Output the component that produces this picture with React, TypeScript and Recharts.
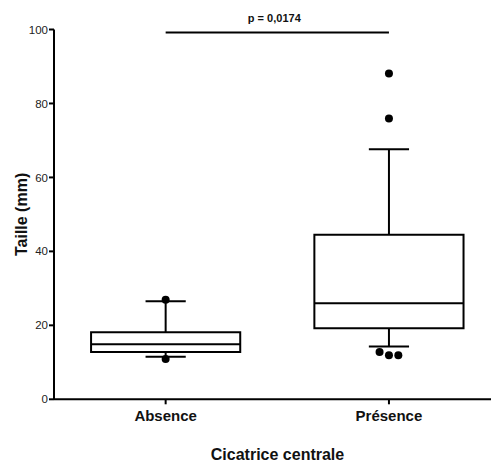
import { ComposedChart, XAxis, YAxis, Scatter, ReferenceArea, ReferenceLine } from 'recharts';

// Box plot: Taille (mm) by Cicatrice centrale
const categories = ['Absence', 'Présence'];
const positions = [0.5, 1.5];
const whiskerLow = [11.5, 14.3];
const quartile1 = [12.8, 19.2];
const medians = [14.9, 26.0];
const quartile3 = [18.1, 44.5];
const whiskerHigh = [26.5, 67.6];

// outliers: group index, value, small side shift so dots don't overlap
const outlierGroup = [0, 0, 1, 1, 1, 1, 1];
const outlierValues = [26.9, 10.9, 88.1, 75.9, 12.8, 11.9, 11.9];
const outlierShift = [0, 0, 0, 0, -0.042, 0, 0.042];

const yTicks = [0, 20, 40, 60, 80, 100];
const pLabel = 'p = 0,0174';
const pLineValue = 99.2;

const FONT = '"Liberation Sans", Arial, Helvetica, sans-serif';
const BOX_HALF = 0.334;
const CAP_HALF = 0.09;

export default function App() {
  const outliers = outlierValues.map((v, i) => ({
    x: positions[outlierGroup[i]] + outlierShift[i],
    y: v,
  }));

  return (
    <div style={{ position: 'absolute', left: 0, top: 0, width: 491, height: 463, background: '#fff' }}>
      <ComposedChart
        width={491}
        height={463}
        margin={{ top: 29.5, right: 0, bottom: 0, left: 0 }}
        style={{ fontFamily: FONT }}
      >
        <XAxis
          type="number"
          dataKey="x"
          domain={[0, 1.957]}
          allowDataOverflow
          ticks={positions}
          tickFormatter={(v: number) => categories[positions.indexOf(v)] ?? ''}
          height={63.7}
          tickSize={5}
          tickMargin={6}
          axisLine={{ stroke: '#000', strokeWidth: 2 }}
          tickLine={{ stroke: '#000', strokeWidth: 2 }}
          tick={{ fill: '#111', fontSize: 15, fontWeight: 'bold', fontFamily: FONT }}
          label={{
            value: 'Cicatrice centrale',
            position: 'insideBottom',
            offset: 3,
            dx: 5,
            style: { fill: '#111', fontSize: 16, fontWeight: 'bold', fontFamily: FONT },
          }}
        />
        <YAxis
          type="number"
          dataKey="y"
          domain={[0, 100]}
          ticks={yTicks}
          width={54}
          tickSize={5}
          tickMargin={1}
          axisLine={{ stroke: '#000', strokeWidth: 2 }}
          tickLine={{ stroke: '#000', strokeWidth: 2 }}
          tick={{ fill: '#222', fontSize: 11.5, fontFamily: FONT }}
          label={{
            value: 'Taille (mm)',
            angle: -90,
            position: 'insideLeft',
            offset: 21,
            style: { textAnchor: 'middle', fill: '#111', fontSize: 16, fontWeight: 'bold', fontFamily: FONT },
          }}
        />

        {positions.map((p, i) => (
          <ReferenceArea
            key={'box' + i}
            x1={p - BOX_HALF}
            x2={p + BOX_HALF}
            y1={quartile1[i]}
            y2={quartile3[i]}
            fill="none"
            stroke="#000"
            strokeWidth={2}
            ifOverflow="visible"
          />
        ))}
        {positions.map((p, i) => (
          <ReferenceLine
            key={'med' + i}
            segment={[{ x: p - BOX_HALF, y: medians[i] }, { x: p + BOX_HALF, y: medians[i] }]}
            stroke="#000"
            strokeWidth={2}
          />
        ))}
        {positions.map((p, i) => (
          <ReferenceLine
            key={'wh' + i}
            segment={[{ x: p, y: quartile3[i] }, { x: p, y: whiskerHigh[i] }]}
            stroke="#000"
            strokeWidth={2}
          />
        ))}
        {positions.map((p, i) => (
          <ReferenceLine
            key={'wl' + i}
            segment={[{ x: p, y: quartile1[i] }, { x: p, y: whiskerLow[i] }]}
            stroke="#000"
            strokeWidth={2}
          />
        ))}
        {positions.map((p, i) => (
          <ReferenceLine
            key={'ch' + i}
            segment={[{ x: p - CAP_HALF, y: whiskerHigh[i] }, { x: p + CAP_HALF, y: whiskerHigh[i] }]}
            stroke="#000"
            strokeWidth={2}
          />
        ))}
        {positions.map((p, i) => (
          <ReferenceLine
            key={'cl' + i}
            segment={[{ x: p - CAP_HALF, y: whiskerLow[i] }, { x: p + CAP_HALF, y: whiskerLow[i] }]}
            stroke="#000"
            strokeWidth={2}
          />
        ))}

        <ReferenceLine
          segment={[{ x: positions[0], y: pLineValue }, { x: positions[1], y: pLineValue }]}
          stroke="#000"
          strokeWidth={2}
          label={{
            value: pLabel,
            position: 'top',
            offset: 10.5,
            dx: -3,
            style: { fill: '#111', fontSize: 11, fontWeight: 'bold', fontFamily: FONT },
          }}
        />

        <Scatter
          data={outliers}
          dataKey="y"
          isAnimationActive={false}
          shape={(props: any) => <circle cx={props.cx} cy={props.cy} r={4} fill="#000" />}
        />
      </ComposedChart>
    </div>
  );
}
